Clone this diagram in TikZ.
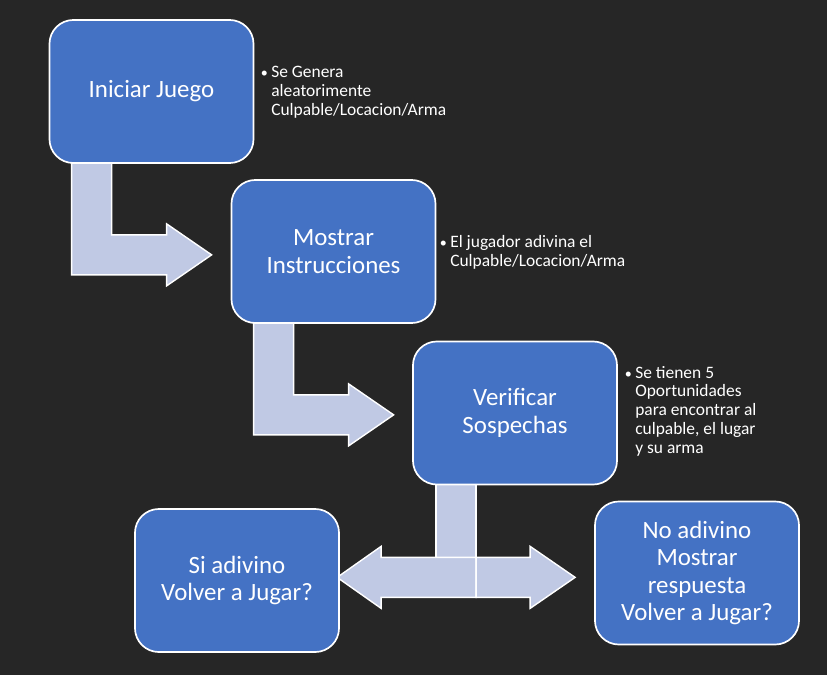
\documentclass[tikz,border=0pt]{standalone}
\usepackage{fontspec}
\setmainfont{Carlito}
\usepackage{tikz}
\usetikzlibrary{calc}
\definecolor{fondogris}{RGB}{38,38,38}
\definecolor{cajaazul}{RGB}{68,114,196}
\definecolor{flechalila}{RGB}{192,201,228}

\pgfdeclarelayer{fondo}
\pgfdeclarelayer{flechas}
\pgfsetlayers{fondo,flechas,main}

\newlength{\balaw}
\setlength{\balaw}{0.175cm}
\newcommand{\notabala}[1]{\makebox[\balaw][l]{\hspace{-2.5pt}{\fontsize{10pt}{10pt}\selectfont\textbullet}}\begin{tabular}[t]{@{}l@{}}#1\end{tabular}}

\begin{document}
\begin{tikzpicture}[x=0.025cm, y=-0.025cm,
    caja/.style={draw=white, line width=1.2pt, fill=cajaazul, rounded corners=17pt,
        minimum width=5.1cm, minimum height=3.575cm, align=center, text=white,
        inner sep=2pt, font=\fontsize{17.7pt}{19.4pt}\selectfont},
    nota/.style={anchor=base west, text=white, inner sep=0pt,
        font=\fontsize{12.4pt}{13.5pt}\selectfont},
    flecha/.style={draw=white, line width=1pt, fill=flechalila}]

% Background
\begin{pgfonlayer}{fondo}
    \fill[fondogris] (0,0) rectangle (827,675);
\end{pgfonlayer}

% Steps
\node[caja] (ini) at (151.5,91.5) {Iniciar Juego};
\node[caja] (ins) at (333.5,251.5) {Mostrar\\Instrucciones};
\node[caja] (ver) at (515,413) {Verificar\\Sospechas};
\node[caja] (si) at (237,580.5) {Si adivino\\Volver a Jugar?};
\node[caja] (no) at (697,573) {No adivino\\Mostrar\\respuesta\\Volver a Jugar?};

% Notes
\node[nota] (notaini) at (264,78) {\notabala{Se Genera\\aleatorimente\\Culpable/Locacion/Arma}};
\node[nota] (notains) at (443,248) {\notabala{El jugador adivina el\\Culpable/Locacion/Arma}};
\node[nota] (notaver) at (628,378) {\notabala{Se tienen 5\\Oportunidades\\para encontrar al\\culpable, el lugar\\y su arma}};

% Bent arrows
\begin{pgfonlayer}{flechas}
    \foreach \caja in {ini,ins} {
        \draw[flecha] ($(\caja.south west)+(23,-10)$) -- ++(40,0) -- ++(0,81) -- ++(55,0)
            -- ++(0,-11) -- ++(45,31) -- ++(-45,31) -- ++(0,-11) -- ++(-95,0) -- cycle;
    }
    % Split arrow under Verificar
    \draw[flecha] ($(ver.south west)+(24,-10)$) rectangle ++(40,82);
    \draw[flecha] ($(ver.south west)+(64,72)$) -- ++(-95,0) -- ++(0,-11) -- ++(-44,31)
        -- ++(44,31) -- ++(0,-11) -- ++(95,0) -- cycle;
    \draw[flecha] ($(ver.south west)+(64,72)$) -- ++(54,0) -- ++(0,-11) -- ++(45,31)
        -- ++(-45,31) -- ++(0,-11) -- ++(-54,0) -- cycle;
\end{pgfonlayer}

\end{tikzpicture}
\end{document}
